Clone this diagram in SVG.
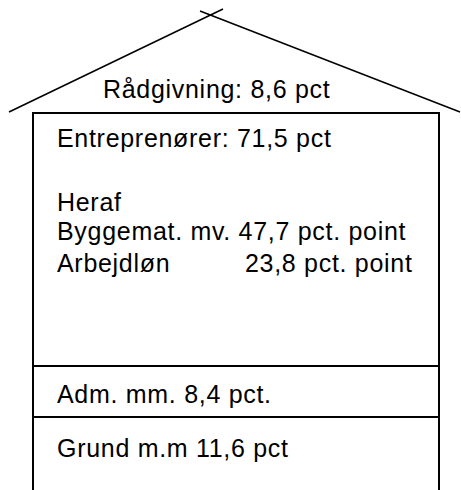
<svg xmlns="http://www.w3.org/2000/svg" width="461" height="490" viewBox="0 0 461 490">
<style>
.t{font-family:"Liberation Sans",Arial,sans-serif;font-size:25px;fill:#000;letter-spacing:0.7px}
.ln{stroke:#000;fill:none}
</style>
<rect width="461" height="490" fill="#fff"/>
<g id="roof">
<line class="ln" x1="9" y1="112" x2="223" y2="9" stroke-width="1.5"/>
<line class="ln" x1="200" y1="11" x2="460" y2="112" stroke-width="1.5"/>
<text class="t" x="103" y="98">Rådgivning: 8,6 pct</text>
</g>
<g id="walls">
<path class="ln" d="M33,490 V113 H439 V490" stroke-width="2"/>
</g>
<g id="entreprenorer">
<text class="t" x="57" y="147">Entreprenører: 71,5 pct</text>
<text class="t" x="57" y="211">Heraf</text>
<text class="t" x="57" y="240">Byggemat. mv. 47,7 pct. point</text>
<text class="t" x="57" y="272">Arbejdløn</text>
<text class="t" x="245" y="272">23,8 pct. point</text>
</g>
<g id="adm">
<line class="ln" x1="33" y1="366" x2="439" y2="366" stroke-width="2"/>
<text class="t" x="57" y="403">Adm. mm. 8,4 pct.</text>
</g>
<g id="grund">
<line class="ln" x1="33" y1="417" x2="439" y2="417" stroke-width="2"/>
<text class="t" x="57" y="457">Grund m.m 11,6 pct</text>
</g>
</svg>
